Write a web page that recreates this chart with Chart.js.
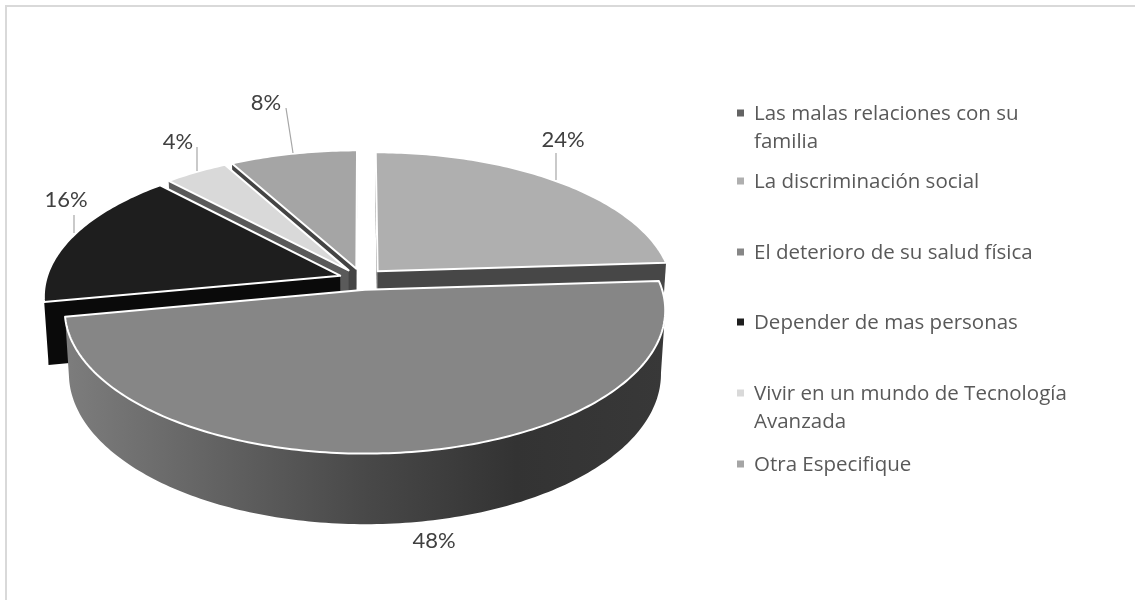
<!DOCTYPE html>
<html><head><meta charset="utf-8">
<style>html,body{margin:0;padding:0;background:#fff}canvas{display:block}</style>
<script src="https://cdn.jsdelivr.net/npm/chart.js@4/dist/chart.umd.min.js"></script>
</head><body>
<canvas id="c" width="1135" height="600"></canvas>
<script>
const categories = ['Las malas relaciones con su familia','La discriminación social','El deterioro de su salud física','Depender de mas personas','Vivir en un mundo de Tecnología Avanzada','Otra Especifique'];
const values = [0,24,48,16,4,8];
const percentLabels = ['0%','24%','48%','16%','4%','8%'];
const topColors = ['#636363','#afafaf','#868686','#1e1e1e','#d9d9d9','#a5a5a5'];
const sideColors = ['#474747','#474747','#444444','#0a0a0a','#5a5a5a','#444444'];
const legendLines = [['Las malas relaciones con su','familia'],['La discriminación social'],['El deterioro de su salud física'],['Depender de mas personas'],['Vivir en un mundo de Tecnología','Avanzada'],['Otra Especifique']];

const view = {dy:-21, p:0.14, k:0.468, depth:62, shrink:0.014, explode:23};
const labelLayout = [null,
 {x:563,y:140,line:[[556,153],[556,180]]},
 {x:434,y:541,line:null},
 {x:66,y:200,line:[[74,215],[74,233]]},
 {x:178,y:142,line:[[197,147],[197,171]]},
 {x:266,y:103,line:[[286,108],[293,153]]}];
const legendLayout = {boxX:737,boxSize:7,textX:754,textDy:1,lineH:28,tops:[113,181,252,322,393,464]};

function project(arc,th,r,z,mid){
  const R=arc.outerRadius, e=view.explode/R;
  const u=r*Math.sin(th)+e*Math.sin(mid);
  const v=-r*Math.cos(th)-e*Math.cos(mid);
  const w=1-view.p*v, s=1-view.shrink*z;
  return [arc.x+R*u/w*s, arc.y+view.dy+R*view.k*v/w*s+view.depth*z/w];
}
const pie3d={id:'pie3d',
 beforeDraw(ch){const c=ch.ctx;c.save();c.fillStyle='#fff';c.fillRect(0,0,ch.width,ch.height);
   c.strokeStyle='#d9d9d9';c.lineWidth=2;c.beginPath();c.moveTo(6,600);c.lineTo(6,6);c.lineTo(1135,6);c.stroke();c.restore();},
 beforeDatasetDraw(ch,args){
  const c=ch.ctx, arcs=args.meta.data;
  const items=arcs.map((a,i)=>{const q=a.getProps(['x','y','startAngle','endAngle','outerRadius'],true);
    return {i,arc:q,s:q.startAngle+Math.PI/2,t:q.endAngle+Math.PI/2};}).filter(o=>o.t-o.s>1e-6);
  items.forEach(o=>o.mid=(o.s+o.t)/2);
  items.sort((a,b)=>(-Math.cos(a.mid))-(-Math.cos(b.mid)));
  c.save();c.lineJoin='round';
  items.forEach(o=>{
    const n=Math.max(8,Math.ceil((o.t-o.s)*60)), top=[], bot=[];
    const P=(th,r,z)=>project(o.arc,th,r,z,o.mid);
    top.push(P(o.s,0,0));bot.push(P(o.s,0,1));
    for(let j=0;j<=n;j++){const th=o.s+(o.t-o.s)*j/n;top.push(P(th,1,0));bot.push(P(th,1,1));}
    let fill=sideColors[o.i];
    if(o.i===2){const g=c.createLinearGradient(70,0,665,0);
      g.addColorStop(0,'#7c7c7c');g.addColorStop(.25,'#626262');g.addColorStop(.5,'#484848');g.addColorStop(.75,'#333333');g.addColorStop(1,'#383838');fill=g;}
    c.fillStyle=fill;
    const m=top.length;
    // contiguous runs of edges that face the viewer become one wall polygon
    let run=[];
    const flush=()=>{ if(run.length<2){run=[];return;}
      c.beginPath();run.forEach((j,k)=>k?c.lineTo(...top[j]):c.moveTo(...top[j]));
      for(let k=run.length-1;k>=0;k--)c.lineTo(...bot[run[k]]);
      c.closePath();c.fill();run=[];};
    for(let j=0;j<m;j++){const b=(j+1)%m;
      if(top[b][0]-top[j][0]<0){ if(!run.length)run.push(j); run.push(b);} else flush();}
    flush();
    c.beginPath();top.forEach((p,j)=>j?c.lineTo(...p):c.moveTo(...p));c.closePath();
    c.fillStyle=topColors[o.i];c.fill();c.strokeStyle='#fff';c.lineWidth=2;c.stroke();
  });
  c.restore();
  return false;
 },
 afterDatasetsDraw(ch){
  const c=ch.ctx;c.save();
  c.strokeStyle='#a6a6a6';c.lineWidth=1.2;
  labelLayout.forEach((l,i)=>{if(!l||!values[i])return;
    if(l.line){c.beginPath();c.moveTo(...l.line[0]);c.lineTo(...l.line[1]);c.stroke();}
    c.font='22px Lato';c.fillStyle='#404040';c.textAlign='center';c.textBaseline='middle';
    c.fillText(percentLabels[i],l.x,l.y);});
  const L=legendLayout;
  c.textAlign='left';c.textBaseline='middle';c.font='20.5px "Open Sans"';
  legendLines.forEach((lines,i)=>{
    c.fillStyle=topColors[i];c.fillRect(L.boxX,L.tops[i]-L.boxSize/2,L.boxSize,L.boxSize);
    c.fillStyle='#595959';
    lines.forEach((t,j)=>c.fillText(t,L.textX,L.tops[i]+L.textDy+j*L.lineH));
  });
  c.restore();
 }};
new Chart(document.getElementById('c'),{type:'pie',plugins:[pie3d],
 data:{labels:categories,datasets:[{data:values,backgroundColor:topColors,borderColor:'#fff'}]},
 options:{responsive:false,animation:false,events:[],rotation:0,
  layout:{padding:{left:0,right:411,top:5,bottom:5}},
  plugins:{legend:{display:false},tooltip:{enabled:false}}}});
</script></body></html>
